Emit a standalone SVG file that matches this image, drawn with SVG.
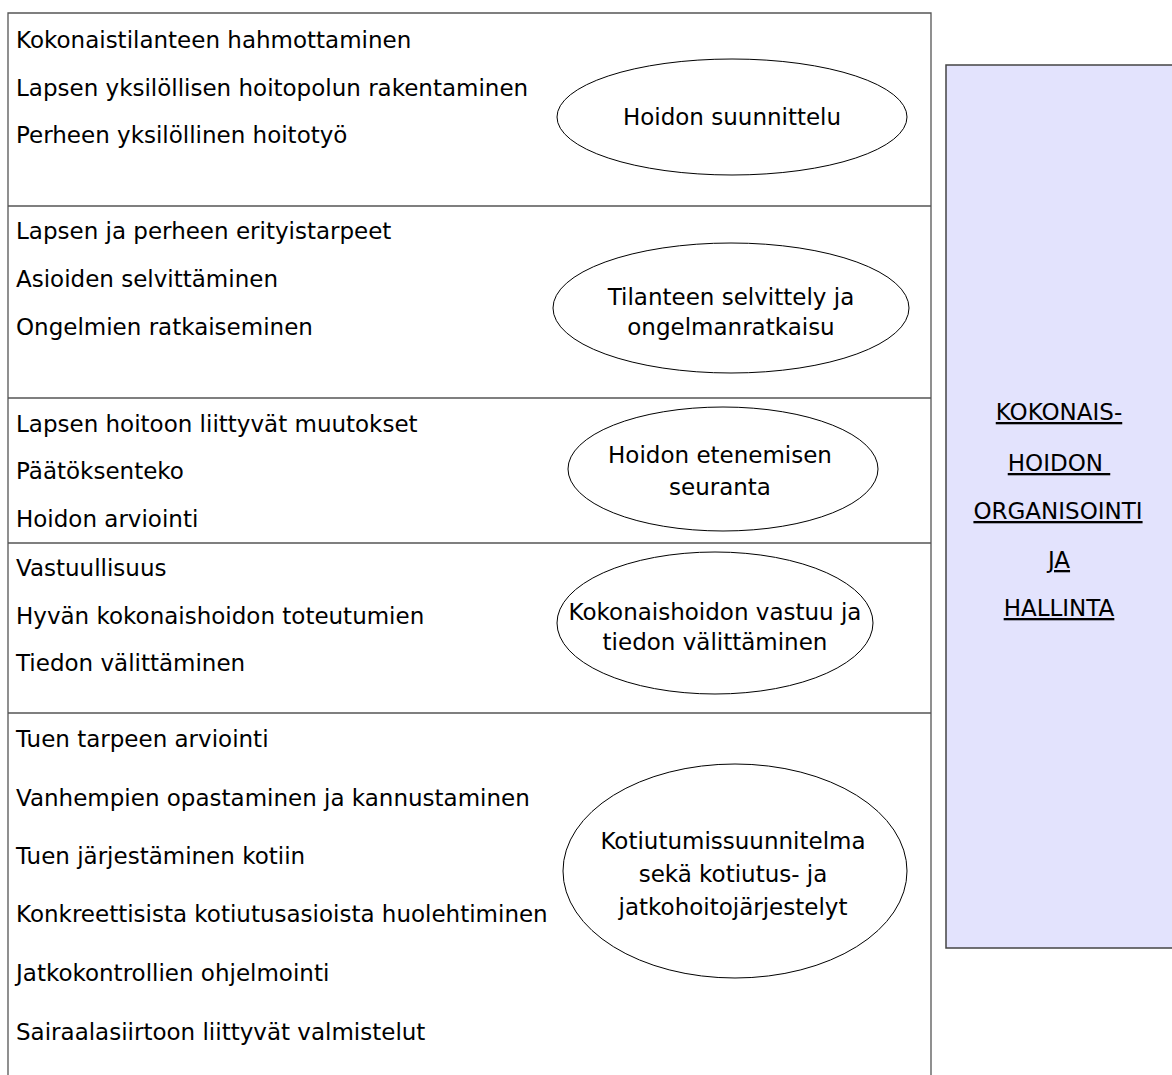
<svg xmlns="http://www.w3.org/2000/svg" width="1172" height="1075" viewBox="0 0 1172 1075">
<style>
text{font-family:"DejaVu Sans","Liberation Sans",sans-serif;font-size:23px;fill:#000}
.l{text-anchor:start}
.c{text-anchor:middle}
.u{text-decoration:underline}
.frame{fill:none;stroke:#555;stroke-width:1.3}
.ell{fill:#fff;stroke:#000;stroke-width:1}
</style>
<rect width="1172" height="1075" fill="#fff"/>
<g id="frame">
<path class="frame" d="M8,1075 V13 H931 V1075"/>
<line class="frame" x1="8" y1="206" x2="931" y2="206"/>
<line class="frame" x1="8" y1="398" x2="931" y2="398"/>
<line class="frame" x1="8" y1="543" x2="931" y2="543"/>
<line class="frame" x1="8" y1="713" x2="931" y2="713"/>
</g>
<g id="connectors"></g>
<g id="section1">
<text class="l" x="16" y="48">Kokonaistilanteen hahmottaminen</text>
<text class="l" x="16" y="96">Lapsen yksilöllisen hoitopolun rakentaminen</text>
<text class="l" x="16" y="143">Perheen yksilöllinen hoitotyö</text>
</g>
<g id="node-hoidon-suunnittelu">
<ellipse class="ell" cx="732" cy="117" rx="175" ry="58"/>
<text class="c" x="732" y="125">Hoidon suunnittelu</text>
</g>
<g id="section2">
<text class="l" x="16" y="239">Lapsen ja perheen erityistarpeet</text>
<text class="l" x="16" y="287">Asioiden selvittäminen</text>
<text class="l" x="16" y="335">Ongelmien ratkaiseminen</text>
</g>
<g id="node-tilanteen">
<ellipse class="ell" cx="731" cy="308" rx="178" ry="65"/>
<text class="c" x="731" y="305">Tilanteen selvittely ja</text>
<text class="c" x="731" y="335">ongelmanratkaisu</text>
</g>
<g id="section3">
<text class="l" x="16" y="432">Lapsen hoitoon liittyvät muutokset</text>
<text class="l" x="16" y="479">Päätöksenteko</text>
<text class="l" x="16" y="527">Hoidon arviointi</text>
</g>
<g id="node-seuranta">
<ellipse class="ell" cx="723" cy="469" rx="155" ry="62"/>
<text class="c" x="720" y="463">Hoidon etenemisen</text>
<text class="c" x="720" y="495">seuranta</text>
</g>
<g id="section4">
<text class="l" x="16" y="576">Vastuullisuus</text>
<text class="l" x="16" y="624">Hyvän kokonaishoidon toteutumien</text>
<text class="l" x="16" y="671">Tiedon välittäminen</text>
</g>
<g id="node-vastuu">
<ellipse class="ell" cx="715" cy="623" rx="158" ry="71"/>
<text class="c" x="715" y="620">Kokonaishoidon vastuu ja</text>
<text class="c" x="715" y="650">tiedon välittäminen</text>
</g>
<g id="section5">
<text class="l" x="16" y="747">Tuen tarpeen arviointi</text>
<text class="l" x="16" y="806">Vanhempien opastaminen ja kannustaminen</text>
<text class="l" x="16" y="864">Tuen järjestäminen kotiin</text>
<text class="l" x="16" y="922">Konkreettisista kotiutusasioista huolehtiminen</text>
<text class="l" x="16" y="981">Jatkokontrollien ohjelmointi</text>
<text class="l" x="16" y="1040">Sairaalasiirtoon liittyvät valmistelut</text>
</g>
<g id="node-kotiutus">
<ellipse class="ell" cx="735" cy="871" rx="172" ry="107"/>
<text class="c" x="733" y="849">Kotiutumissuunnitelma</text>
<text class="c" x="733" y="882">sekä kotiutus- ja</text>
<text class="c" x="733" y="915">jatkohoitojärjestelyt</text>
</g>
<g id="node-kokonaishoito">
<rect x="946" y="65" width="240" height="883" fill="#e3e3fd" stroke="#444" stroke-width="1.5"/>
<text class="c u" x="1059" y="420">KOKONAIS-</text>
<text class="c u" x="1059" y="471" xml:space="preserve">HOIDON </text>
<text class="c u" x="1058" y="519">ORGANISOINTI</text>
<text class="c u" x="1059" y="568">JA</text>
<text class="c u" x="1059" y="616">HALLINTA</text>
</g>
</svg>
